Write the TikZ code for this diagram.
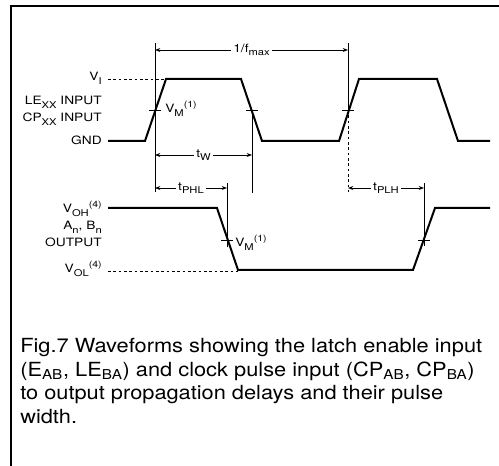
\documentclass[tikz,border=0pt]{standalone}
\usepackage{fontspec}
\setmainfont{TeX Gyre Heros}
\newfontfamily\lblfont{TeX Gyre Heros}[FakeStretch=1.2]
\newfontfamily\capfont{TeX Gyre Heros}[FakeStretch=1.12]
\usepackage{tikz}
\usetikzlibrary{arrows.meta}
\newcommand{\lsub}[1]{\raisebox{-0.5ex}{\fontsize{7}{8}\selectfont#1}}
\newcommand{\lsup}[1]{\raisebox{0.9ex}{\fontsize{6.6}{8}\selectfont#1}}

\begin{document}
\begin{tikzpicture}[
        x=0.75pt, y=-0.75pt,
        wave/.style={line width=1.5pt, line join=miter},
        thin/.style={line width=0.6pt},
        dim/.style={thin, {Stealth[length=4pt,width=3pt]}-{Stealth[length=4pt,width=3pt]}},
        lvl/.style={line width=0.5pt, dash pattern=on 2pt off 2pt},
        lbl/.style={font=\lblfont\fontsize{8.6}{10}\selectfont, inner sep=0pt},
        dimlbl/.style={lbl, fill=white, inner xsep=2pt, inner ysep=1pt},
        caption/.style={font=\capfont\fontsize{14.6}{16}\selectfont, align=left, inner sep=0pt, anchor=north west}
    ]
        \useasboundingbox (0,0) rectangle (499,466);
        \draw[line width=1.5pt] (11,466) -- (11,6) -- (499,6);

        % waveforms
        \draw[wave] (108,141) -- (145,141) -- (166,79) -- (241,79) -- (262,141) -- (339,141) -- (359,79) -- (437,79) -- (458,141) -- (490,141);
        \draw[wave] (108,208) -- (217,208) -- (238,270) -- (413,270) -- (435,208) -- (490,208);
        \draw[lvl] (108,79) -- (166,79);
        \draw[lvl] (108,271) -- (238,271);

        % measurement points
        \coordinate (m1) at (155,110);
        \coordinate (m2) at (252,110);
        \coordinate (m3) at (348,110);
        \coordinate (m4) at (227,240);
        \coordinate (m5) at (424,240);
        \foreach \m in {m1,m2,m3,m4,m5}
            \draw[thin] ([xshift=-4.5pt]\m) -- ([xshift=4.5pt]\m);

        \coordinate (r1t) at (155,43);
        \coordinate (r1b) at (155,192);
        \coordinate (r2b) at (252,193);
        \coordinate (r3t) at (348,43);
        \coordinate (r3b) at (348,192);
        \coordinate (r4t) at (227,183);
        \coordinate (r4b) at (227,247);
        \coordinate (r5t) at (424,183);
        \coordinate (r5b) at (424,246);
        \draw[thin] (r1t) -- (r1b);
        \draw[thin] (m2) -- (r2b);
        \draw[thin] (r3t) -- (m3);
        \draw[lvl] (m3) -- (r3b);
        \draw[thin] (r4t) -- (r4b);
        \draw[thin] (r5t) -- (r5b);

        % timing arrows
        \coordinate (f1) at (155,50);
        \coordinate (f2) at (348,50);
        \coordinate (w1) at (155,155);
        \coordinate (w2) at (252,155);
        \coordinate (p1) at (155,188);
        \coordinate (p2) at (227,188);
        \coordinate (q1) at (348,188);
        \coordinate (q2) at (424,188);
        \draw[dim] (f1) -- node[dimlbl] (fmax) {1/f\lsub{max}} (f2);
        \draw[dim] (w1) -- node[dimlbl] (tw) {t\lsub{W}} (w2);
        \draw[dim] (p1) -- node[dimlbl] (tphl) {t\lsub{PHL}} (p2);
        \draw[dim] (q1) -- node[dimlbl] (tplh) {t\lsub{PLH}} (q2);

        % labels
        \node[lbl, anchor=base east] (vi) at (102,81) {V\lsub{I}};
        \node[lbl, anchor=base east] (lein) at (102,105) {LE\lsub{XX} INPUT};
        \node[lbl, anchor=base east] (cpin) at (102,122) {CP\lsub{XX} INPUT};
        \node[lbl, anchor=base east] (gnd) at (102,145) {GND};
        \node[lbl, anchor=base east] (voh) at (102,213) {V\lsub{OH}\lsup{(4)}};
        \node[lbl, anchor=base east] (anbn) at (102,230) {A\lsub{n}, B\lsub{n}};
        \node[lbl, anchor=base east] (outp) at (102,247) {OUTPUT};
        \node[lbl, anchor=base east] (vol) at (102,273) {V\lsub{OL}\lsup{(4)}};
        \node[lbl, anchor=base west] (vm1) at (165,113) {V\lsub{M}\lsup{(1)}};
        \node[lbl, anchor=base west] (vm2) at (235,247) {V\lsub{M}\lsup{(1)}};

        \node[caption] (fig) at (20,338) {Fig.7 Waveforms showing the latch enable input\\[1.7pt](E\textsubscript{AB}, LE\textsubscript{BA}) and clock pulse input (CP\textsubscript{AB}, CP\textsubscript{BA})\\[1.7pt]to output propagation delays and their pulse\\[1.7pt]width.};
    \end{tikzpicture}
\end{document}
